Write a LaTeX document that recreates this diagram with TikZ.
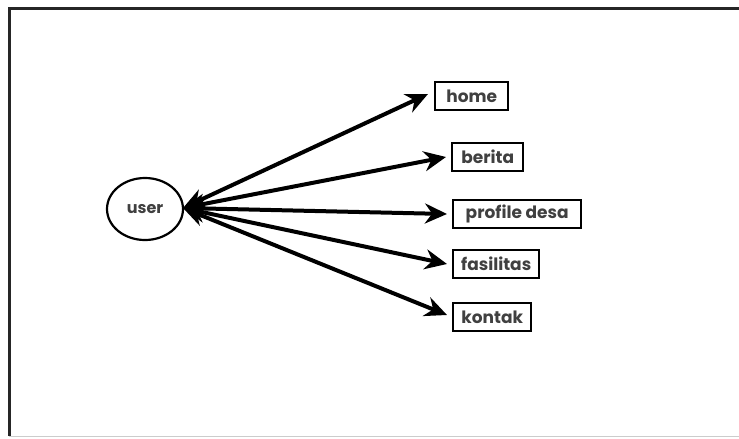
\documentclass[tikz,border=0pt]{standalone}
\usepackage{fontspec}
\setmainfont{Poppins}
\usetikzlibrary{arrows.meta,shapes.geometric}
\begin{document}
\begin{tikzpicture}[x=1pt,y=-1pt,
  item/.style={draw=black,line width=2.4pt,rectangle,minimum height=28pt,inner sep=3pt,anchor=west,font=\fontsize{17}{19}\selectfont\bfseries,text=black!75},
  link/.style={line width=4pt,{Stealth[length=22pt,width=20pt]}-{Stealth[length=22pt,width=20pt]}}]
\useasboundingbox (0,0) rectangle (739,439);
\fill[white] (0,0) rectangle (739,439);
\draw[line width=3pt,black!85] (9,436) -- (9,8) -- (739,8);
\draw[line width=1pt,black!20] (9,436) -- (739,436);
\node[draw,line width=2.2pt,ellipse,minimum width=76pt,minimum height=62pt,font=\fontsize{16}{18}\selectfont\bfseries,text=black!75] (user) at (145,209) {user};
\coordinate (hub) at (183,208);
\node[item,minimum width=73pt] (home) at (434,96) {home};
\node[item,minimum width=71pt] (berita) at (451,157) {berita};
\node[item,minimum width=128pt] (profil) at (452,214) {profile desa};
\node[item,minimum width=86pt] (fas) at (452,264) {fasilitas};
\node[item,minimum width=78pt] (kontak) at (452,317) {kontak};
\draw[link] (hub) -- ([xshift=-6pt,yshift=2pt]home.west);
\draw[link] (hub) -- ([xshift=-5pt]berita.west);
\draw[link] (hub) -- ([xshift=-5pt]profil.west);
\draw[link] (hub) -- ([xshift=-5pt]fas.west);
\draw[link] (hub) -- ([xshift=-5pt,yshift=2pt]kontak.west);
\end{tikzpicture}
\end{document}
